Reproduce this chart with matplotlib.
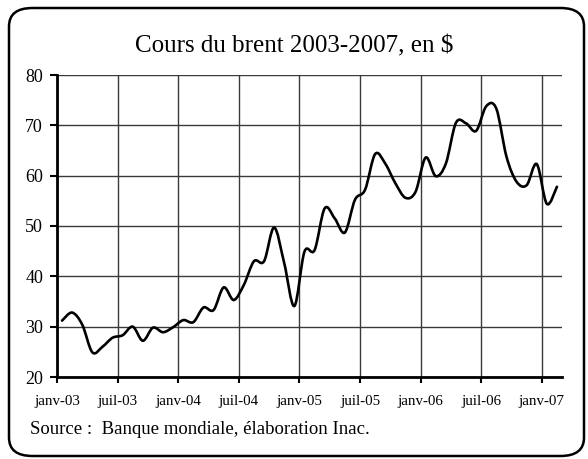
import matplotlib
matplotlib.use('Agg')
import matplotlib.pyplot as plt
from matplotlib.path import Path
from matplotlib.patches import PathPatch, FancyBboxPatch

# --- DATA ---
# monthly average brent price, janv-03 .. fevr-07 (points sit mid-month)
months = list(range(50))
prices = [31.2, 32.8, 30.4, 24.9, 26.0, 27.8, 28.3, 30.0, 27.2, 29.8, 28.9, 29.9,
          31.3, 30.9, 33.8, 33.3, 37.8, 35.3, 38.3, 43.0, 43.0, 49.7, 42.6, 34.1,
          44.9, 45.2, 53.5, 51.5, 48.7, 55.2, 57.2, 64.3, 62.4, 58.5, 55.6, 56.8,
          63.6, 59.9, 62.4, 70.5, 70.4, 68.9, 73.8, 73.3, 63.8, 58.8, 58.1, 62.3,
          54.4, 57.8]
tick_months = [0, 6, 12, 18, 24, 30, 36, 42, 48]
tick_labels = ['janv-03', 'juil-03', 'janv-04', 'juil-04', 'janv-05',
               'juil-05', 'janv-06', 'juil-06', 'janv-07']
y_ticks = [20, 30, 40, 50, 60, 70, 80]

TITLE = 'Cours du brent 2003-2007, en $'
SOURCE = 'Source :  Banque mondiale, élaboration Inac.'

plt.rcParams['font.family'] = ['Liberation Serif', 'DejaVu Serif']

W, H = 588, 459
fig = plt.figure(figsize=(W / 100, H / 100), dpi=100)
fig.patch.set_facecolor('white')

# rounded frame with a small shadow bottom-right
shadow = FancyBboxPatch((12 / W, 4 / H), 573 / W, 445 / H,
                        boxstyle='round,pad=0,rounding_size=0.04',
                        transform=fig.transFigure, facecolor='black',
                        edgecolor='black', lw=0, zorder=0)
frame = FancyBboxPatch((9 / W, 3 / H), 575 / W, 448 / H,
                       boxstyle='round,pad=0,rounding_size=0.04',
                       transform=fig.transFigure, facecolor='white',
                       edgecolor='black', lw=1.8, zorder=1)
fig.patches.extend([shadow, frame])

ax = fig.add_axes([57 / W, (H - 377) / H, (562 - 57) / W, (377 - 75) / H])
ax.set_facecolor('none')
ax.set_zorder(2)

# smoothed line (Excel style Bezier through the monthly points)
x = [m + 0.5 for m in months]
y = prices
n = len(x)
verts = [(x[0], y[0])]
codes = [Path.MOVETO]
for i in range(n - 1):
    x0, y0 = x[max(i - 1, 0)], y[max(i - 1, 0)]
    x3, y3 = x[min(i + 2, n - 1)], y[min(i + 2, n - 1)]
    c1 = (x[i] + (x[i + 1] - x0) / 6, y[i] + (y[i + 1] - y0) / 6)
    c2 = (x[i + 1] - (x3 - x[i]) / 6, y[i + 1] - (y3 - y[i]) / 6)
    verts += [c1, c2, (x[i + 1], y[i + 1])]
    codes += [Path.CURVE4] * 3
ax.add_patch(PathPatch(Path(verts, codes), facecolor='none', edgecolor='black',
                       lw=1.9, capstyle='round', joinstyle='round', zorder=5))

ax.set_xlim(0, 50)
ax.set_ylim(20, 80)
ax.set_xticks(tick_months)
ax.set_xticklabels(tick_labels, fontsize=10.8)
ax.set_yticks(y_ticks)
ax.tick_params(axis='y', labelsize=13, direction='out', length=5, width=1.5, pad=5)
ax.tick_params(axis='x', direction='out', length=4, width=1.5, pad=9)

ax.grid(True, color='#3a3a3a', lw=1)
ax.set_axisbelow(True)
for side in ['top', 'right']:
    ax.spines[side].set_visible(False)
for side in ['left', 'bottom']:
    ax.spines[side].set_linewidth(2)

fig.text(0.5, 1 - 52 / H, TITLE, ha='center', va='baseline', fontsize=18)
fig.text(30 / W, 1 - 434 / H, SOURCE, ha='left', va='baseline', fontsize=13.5)

fig.savefig('out.png', dpi=100)
